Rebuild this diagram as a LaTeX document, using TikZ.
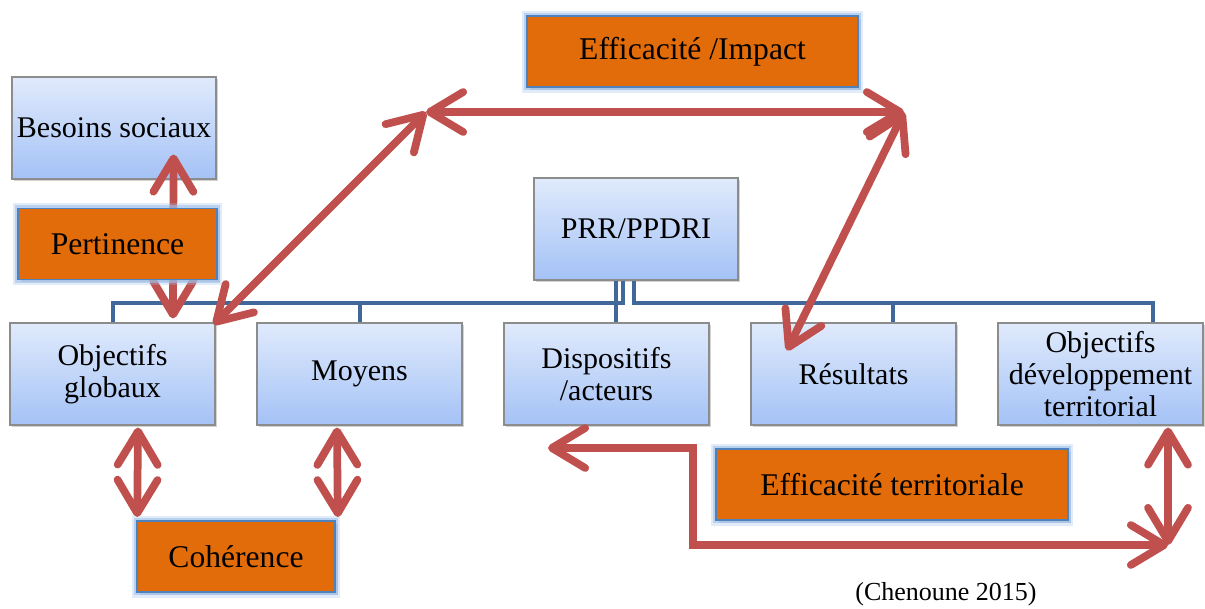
\documentclass[tikz,border=0pt]{standalone}
\usepackage{fontspec}
\setmainfont{Liberation Serif}
\usetikzlibrary{arrows.meta,shadows}
\definecolor{arrowred}{RGB}{192,80,77}
\definecolor{treeblue}{RGB}{64,104,154}
\definecolor{boxtop}{RGB}{224,234,252}
\definecolor{boxbottom}{RGB}{164,194,246}
\definecolor{boxorange}{RGB}{227,108,10}
\definecolor{orangeedge}{RGB}{79,129,189}
\definecolor{glowblue}{RGB}{160,192,236}

\begin{document}
\begin{tikzpicture}[x=0.75pt, y=-0.75pt,
    bluebox/.style={draw=black!45, line width=0.8pt, top color=boxtop, bottom color=boxbottom,
        minimum width=153.75pt, minimum height=76.5pt, inner sep=0pt, align=center,
        font=\fontsize{22.5}{24.2}\selectfont,
        drop shadow={shadow xshift=1.5pt, shadow yshift=-1.5pt, opacity=0.35}},
    orangebox/.style={draw=orangeedge, line width=1.2pt, fill=boxorange,
        minimum height=53.5pt, inner sep=0pt, font=\fontsize{23.7}{25}\selectfont,
        drop shadow={shadow xshift=2pt, shadow yshift=-2pt, opacity=0.35},
        preaction={draw=glowblue, line width=8pt, opacity=0.3},
        preaction={draw=glowblue, line width=4.5pt, opacity=0.6}},
    link/.style={draw=treeblue, line width=3pt},
    twoway/.style={draw=arrowred, line width=5.8pt,
        {Straight Barb[length=25pt, width=30pt, round]}-{Straight Barb[length=25pt, width=30pt, round]}}]
    \useasboundingbox (0,0) rectangle (1205,608);

    \node (besoins) [bluebox, minimum width=153pt] at (114,128) {Besoins sociaux};
    \node (prr) [bluebox, minimum width=153pt] at (636,229) {PRR/PPDRI};
    \node (objglob) [bluebox] at (112.5,374) {Objectifs\\globaux};
    \node (moyens) [bluebox] at (359.5,374) {Moyens};
    \node (dispositifs) [bluebox] at (606.5,374) {Dispositifs\\/acteurs};
    \node (resultats) [bluebox] at (853.5,374) {Résultats};
    \node (objdev) [bluebox] at (1100.5,374) {Objectifs\\développement\\territorial};

    \draw[link] ([xshift=-15pt]prr.south) -- ([xshift=-15pt]prr.south |- dispositifs.north);
    \draw[link] ([xshift=-9.75pt]prr.south) -- ++(0,22) -| (objglob.north);
    \draw[link] (moyens.north) -- ++(0,-21);
    \draw[link] ([xshift=-1.5pt]prr.south) -- ++(0,22) -| ([shift={(52.5,0)}]objdev.north);
    \draw[link] ([shift={(39.5,0)}]resultats.north) -- ++(0,-21);

    \node (impact) [orangebox, minimum width=248.25pt] at (692.5,51.5) {Efficacité /Impact};
    \node (coherence) [orangebox, minimum width=148.5pt] at (236,556.5) {Cohérence};
    \node (effterr) [orangebox, minimum width=264pt] at (892,484.5) {Efficacité territoriale};
    \node (source) [font=\fontsize{19.5}{21}\selectfont] at (946,594) {(Chenoune 2015)};

    \coordinate (impactl) at (426,112);
    \coordinate (impactr) at (904,112);
    \coordinate (terrl) at (548,448);
    \coordinate (terrr) at (1168,545);

    \draw[twoway] ([shift={(-43,-25)}]besoins.south east) -- ([shift={(60.5,-4)}]objglob.north);
    \draw[twoway] ([shift={(-2,2)}]objglob.north east) -- (impactl);
    \draw[twoway] (impactl) -- (impactr);
    \draw[twoway] (impactr) -- ([shift={(-66.5,28)}]resultats.north);
    \draw[twoway] ([shift={(25.5,2)}]objglob.south) -- ([shift={(1,-3)}]coherence.north west);
    \draw[twoway] ([shift={(-22.5,2)}]moyens.south) -- ([shift={(2,-3)}]coherence.north east);
    \draw[twoway] (terrl) -- ++(145,0) -- ++(0,97) -- (terrr);
    \draw[twoway] ([shift={(67.5,2)}]objdev.south) -- (terrr);

    \node (pertinence) [orangebox, minimum width=149.25pt] at (117.5,244) {Pertinence};
\end{tikzpicture}
\end{document}
